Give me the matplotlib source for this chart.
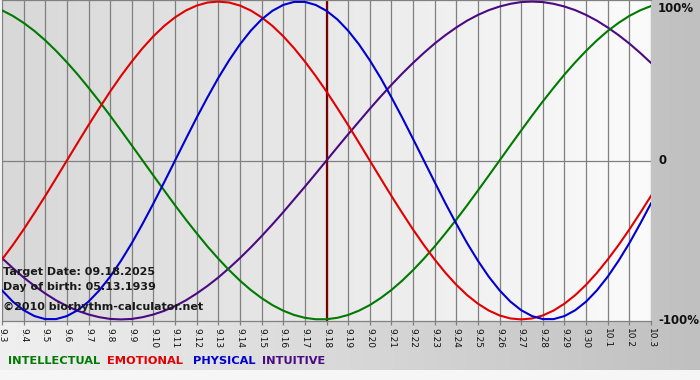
import numpy as np
import matplotlib
matplotlib.use("Agg")
import matplotlib.pyplot as plt
from matplotlib.colors import LinearSegmentedColormap

# ---- data ----
days = ['9.3', '9.4', '9.5', '9.6', '9.7', '9.8', '9.9', '9.10', '9.11', '9.12',
        '9.13', '9.14', '9.15', '9.16', '9.17', '9.18', '9.19', '9.20', '9.21',
        '9.22', '9.23', '9.24', '9.25', '9.26', '9.27', '9.28', '9.29', '9.30',
        '10.1', '10.2', '10.3']

# curve values read every half day, from 9.3 to 10.3
intellectual = [0.945, 0.910, 0.866, 0.815, 0.756, 0.690, 0.618, 0.541, 0.458, 0.372,
                0.282, 0.189, 0.095, 0.000, -0.095, -0.189, -0.282, -0.372, -0.458, -0.541,
                -0.618, -0.690, -0.756, -0.815, -0.866, -0.910, -0.945, -0.972, -0.990, -0.999,
                -0.999, -0.990, -0.972, -0.945, -0.910, -0.866, -0.815, -0.756, -0.690, -0.618,
                -0.541, -0.458, -0.372, -0.282, -0.189, -0.095, 0.000, 0.095, 0.189, 0.282,
                0.372, 0.458, 0.541, 0.618, 0.690, 0.756, 0.815, 0.866, 0.910, 0.945,
                0.972]
emotional = [-0.623, -0.532, -0.434, -0.330, -0.223, -0.112, 0.000, 0.112, 0.223, 0.330,
             0.434, 0.532, 0.623, 0.707, 0.782, 0.847, 0.901, 0.944, 0.975, 0.994,
             1.000, 0.994, 0.975, 0.944, 0.901, 0.847, 0.782, 0.707, 0.623, 0.532,
             0.434, 0.330, 0.223, 0.112, 0.000, -0.112, -0.223, -0.330, -0.434, -0.532,
             -0.623, -0.707, -0.782, -0.847, -0.901, -0.944, -0.975, -0.994, -1.000, -0.994,
             -0.975, -0.944, -0.901, -0.847, -0.782, -0.707, -0.623, -0.532, -0.434, -0.330,
             -0.223]
physical = [-0.817, -0.888, -0.942, -0.979, -0.998, -0.998, -0.979, -0.942, -0.888, -0.817,
            -0.731, -0.631, -0.520, -0.398, -0.270, -0.136, 0.000, 0.136, 0.270, 0.398,
            0.520, 0.631, 0.731, 0.817, 0.888, 0.942, 0.979, 0.998, 0.998, 0.979,
            0.942, 0.888, 0.817, 0.731, 0.631, 0.520, 0.398, 0.270, 0.136, 0.000,
            -0.136, -0.270, -0.398, -0.520, -0.631, -0.731, -0.817, -0.888, -0.942, -0.979,
            -0.998, -0.998, -0.979, -0.942, -0.888, -0.817, -0.731, -0.631, -0.520, -0.398,
            -0.270]
intuitive = [-0.614, -0.677, -0.736, -0.789, -0.837, -0.880, -0.916, -0.946, -0.969, -0.986,
             -0.997, -1.000, -0.997, -0.986, -0.969, -0.946, -0.916, -0.880, -0.837, -0.789,
             -0.736, -0.677, -0.614, -0.547, -0.476, -0.402, -0.325, -0.245, -0.165, -0.083,
             0.000, 0.083, 0.165, 0.245, 0.325, 0.402, 0.476, 0.547, 0.614, 0.677,
             0.736, 0.789, 0.837, 0.880, 0.916, 0.946, 0.969, 0.986, 0.997, 1.000,
             0.997, 0.986, 0.969, 0.946, 0.916, 0.880, 0.837, 0.789, 0.736, 0.677,
             0.614]
samples_per_day = 2

target_day = '9.18'
right_labels = ['100%', '0', '-100%']
right_values = [1.0, 0.0, -1.0]
series_names = ['INTELLECTUAL', 'EMOTIONAL', 'PHYSICAL', 'INTUITIVE']
info_lines = ['Target Date: 09.18.2025', 'Day of birth: 05.13.1939',
              '\u00a92010 biorhythm-calculator.net']

# ---- styles ----
C_INT = '#007a00'
C_EMO = '#e00000'
C_PHY = '#0000d0'
C_INU = '#4b0a82'
GRID = '#808080'

W, H = 700, 380
fig = plt.figure(figsize=(W / 100, H / 100), dpi=100)

# figure background gradient
bg = fig.add_axes([0, 0, 1, 1], zorder=-10)
bg_cmap = LinearSegmentedColormap.from_list('bg', ['#f0f0f0', '#c0c0c0'])
bg.imshow(np.linspace(0, 1, 256).reshape(1, -1), aspect='auto', cmap=bg_cmap,
          extent=[0, 1, 0, 1])
bg.add_patch(plt.Rectangle((0, 0), 1, 10 / H, color='#f6f6f6', lw=0))
bg.set_xlim(0, 1)
bg.set_ylim(0, 1)
bg.axis('off')

left_px, right_px, top_px, bot_px = 2, 651, 0, 321
ax = fig.add_axes([left_px / W, 1 - bot_px / H, (right_px - left_px) / W,
                   (bot_px - top_px) / H])
x = np.arange(len(days))
xs = np.arange(len(physical)) / samples_per_day
ax.set_xlim(0, len(days) - 1)
ax.set_ylim(-1.01, 1.01)

# plot background gradient
pl_cmap = LinearSegmentedColormap.from_list('pl', ['#d8d8d8', '#fbfbfb'])
ax.imshow(np.linspace(0, 1, 256).reshape(1, -1), aspect='auto', cmap=pl_cmap,
          extent=[0, len(days) - 1, -1.01, 1.01], zorder=0)

for xi in x:
    ax.axvline(xi, color=GRID, lw=0.9, zorder=1)
ax.axhline(0, color=GRID, lw=0.9, zorder=1)

ax.axvline(days.index(target_day), color='#7a0000', lw=1.6, zorder=2)

ax.plot(xs, intuitive, color=C_INU, lw=1.5, zorder=3)
ax.plot(xs, intellectual, color=C_INT, lw=1.5, zorder=3)
ax.plot(xs, emotional, color=C_EMO, lw=1.5, zorder=3)
ax.plot(xs, physical, color=C_PHY, lw=1.5, zorder=3)

for s in ['left', 'right']:
    ax.spines[s].set_visible(False)
for s in ['top', 'bottom']:
    ax.spines[s].set_color(GRID)
    ax.spines[s].set_linewidth(0.9)

ax.set_yticks([])
ax.set_xticks(x)
ax.set_xticklabels(days, rotation=270, fontsize=6.5, color='#111111',
                   fontfamily='DejaVu Sans')
ax.tick_params(axis='x', length=3, width=0.9, color=GRID, pad=2)

tr = ax.get_yaxis_transform()
label_y = {1.0: 0.955, 0.0: 0.0, -1.0: -1.01}
for lab, v in zip(right_labels, right_values):
    ax.text(1.011, label_y[v], lab, transform=tr, ha='left', va='center',
            fontsize=8.5, fontweight='bold', color='#111111', clip_on=False)

# info text overlay
info_y = [272, 287, 307]
for t, yp in zip(info_lines, info_y):
    fig.text(3 / W, 1 - yp / H, t, ha='left', va='center', fontsize=8,
             fontweight='bold', color='#1a1a1a', zorder=20)

# legend text
legend_colors = [C_INT, C_EMO, C_PHY, C_INU]
legend_x = [8, 107, 193, 262]
for name, c, lx in zip(series_names, legend_colors, legend_x):
    fig.text(lx / W, 1 - 361 / H, name, ha='left', va='center', fontsize=8.2,
             fontweight='bold', color=c)

fig.savefig('out.png', dpi=100)
